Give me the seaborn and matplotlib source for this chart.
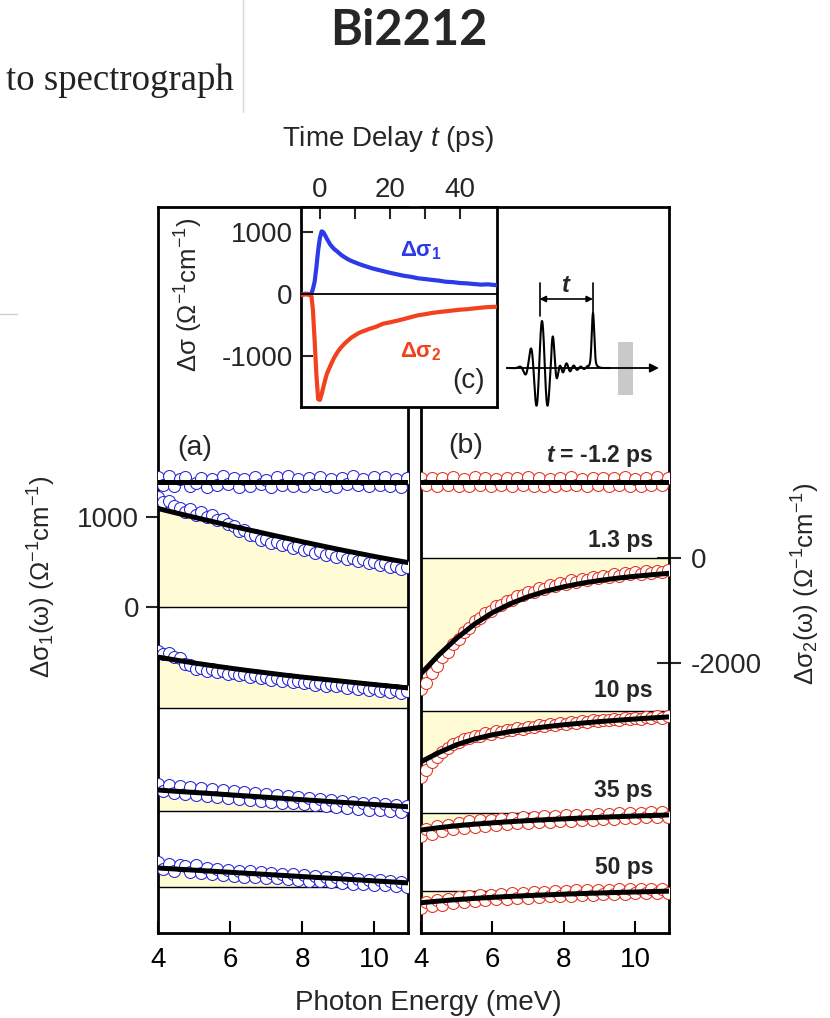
import numpy as np
import matplotlib
matplotlib.use("Agg")
import matplotlib.pyplot as plt
from matplotlib.lines import Line2D
from matplotlib.patches import Rectangle
import seaborn as sns

# ---------------------------------------------------------------- data
# photon energy (meV) of the measured spectra and of the model curves
energy = [4.0, 4.15, 4.3, 4.45, 4.6, 4.75, 4.9, 5.05, 5.2, 5.35, 5.5, 5.65,
          5.8, 5.95, 6.1, 6.25, 6.4, 6.55, 6.7, 6.85, 7.0, 7.15, 7.3, 7.45,
          7.6, 7.75, 7.9, 8.05, 8.2, 8.35, 8.5, 8.65, 8.8, 8.95, 9.1, 9.25,
          9.4, 9.55, 9.7, 9.85, 10.0, 10.15, 10.3, 10.45, 10.6, 10.75, 10.9]
energy_fit = [4.0, 4.5, 5.0, 5.5, 6.0, 6.5, 7.0, 7.5, 8.0, 8.5, 9.0, 9.5,
              10.0, 10.5, 11.0]

delay_labels = ["t = -1.2 ps", "1.3 ps", "10 ps", "35 ps", "50 ps"]

# (a) real part  Δσ1 (Ω^-1 cm^-1)
s1_m12 = [50, -35, 60, -45, 25, 55, -50, -15, 45, -60, 30, -40, 60, -25, 45,
          -55, 35, -50, 55, -30, 20, -55, 50, -35, 60, -45, 30, -50, 40, -25,
          55, -45, 35, -55, 45, -30, 60, -40, 25, -50, 50, -35, 55, -45, 30,
          -55, 45]
s1_1p3 = [1225, 1170, 1185, 1130, 1110, 1065, 1090, 1030, 1065, 1010, 1030,
          975, 985, 925, 905, 850, 860, 800, 805, 745, 760, 710, 725, 690,
          700, 660, 675, 630, 645, 605, 625, 580, 600, 555, 575, 530, 550,
          510, 530, 485, 505, 465, 485, 440, 460, 420, 440]
s1_10 = [640, 610, 625, 580, 560, 500, 480, 440, 455, 420, 440, 405, 420, 385,
         400, 370, 385, 350, 370, 335, 355, 320, 340, 305, 325, 295, 310, 280,
         300, 265, 285, 255, 275, 245, 265, 230, 255, 220, 240, 205, 230, 195,
         215, 185, 205, 170, 190]
s1_35 = [300, 220, 290, 200, 275, 195, 265, 180, 255, 170, 245, 160, 230, 150,
         220, 140, 210, 125, 200, 115, 190, 105, 180, 95, 170, 85, 160, 75,
         150, 65, 140, 55, 125, 45, 115, 35, 105, 25, 95, 15, 85, 10, 75, 0,
         65, -10, 55]
s1_50 = [280, 200, 265, 185, 255, 235, 170, 245, 160, 220, 150, 205, 140, 195,
         130, 185, 120, 180, 115, 170, 105, 160, 100, 150, 90, 145, 80, 135,
         75, 125, 65, 115, 55, 110, 50, 100, 40, 95, 35, 85, 25, 80, 20, 70,
         15, 60, 5]

fit1_m12 = [0, 0, 0, 0, 0, 0, 0, 0, 0, 0, 0, 0, 0, 0, 0]
fit1_1p3 = [1100, 1050, 1002, 955, 907, 862, 817, 773, 728, 685, 643, 603,
            563, 526, 490]
fit1_10 = [574, 540, 508, 478, 450, 423, 398, 373, 350, 329, 308, 287, 266,
           246, 226]
fit1_35 = [235, 221, 208, 195, 181, 168, 154, 141, 127, 114, 100, 87, 73, 60,
           46]
fit1_50 = [216, 204, 192, 180, 168, 156, 144, 132, 120, 108, 96, 84, 72, 60,
           48]

# (b) imaginary part  Δσ2 (Ω^-1 cm^-1)
s2_m12 = [80, -70, 65, -90, 75, -55, 85, -80, 55, -75, 90, -65, 70, -85, 60,
          -70, 80, -90, 65, -60, 85, -75, 70, -80, 60, -90, 75, -65, 85, -70,
          60, -80, 75, -60, 80, -85, 70, -65, 90, -75, 55, -80, 75, -70, 85,
          -60, 70]
s2_1p3 = [-2500, -2380, -2200, -2070, -1900, -1790, -1640, -1540, -1410, -1330,
          -1210, -1150, -1050, -1010, -920, -890, -810, -790, -720, -710, -640,
          -640, -575, -580, -520, -530, -470, -485, -425, -445, -390, -410,
          -360, -380, -330, -355, -305, -330, -285, -310, -265, -295, -250,
          -280, -235, -265, -220]
s2_10 = [-1260, -1130, -990, -880, -780, -710, -640, -600, -545, -530, -480,
         -480, -430, -440, -395, -405, -365, -375, -335, -345, -305, -320,
         -280, -295, -260, -275, -240, -255, -220, -235, -200, -220, -185,
         -200, -170, -185, -155, -175, -140, -160, -130, -150, -115, -135,
         -105, -130, -95]
s2_35 = [-430, -300, -390, -250, -340, -215, -300, -180, -275, -150, -260,
         -135, -240, -120, -225, -105, -210, -95, -195, -80, -185, -70, -170,
         -60, -160, -50, -150, -40, -140, -30, -130, -25, -120, -15, -110, -5,
         -100, 0, -95, 10, -85, 15, -80, 20, -70, 25, -65]
s2_50 = [-340, -215, -300, -180, -265, -150, -240, -125, -215, -105, -195, -90,
         -180, -75, -165, -60, -155, -50, -140, -40, -130, -30, -120, -20,
         -110, -10, -100, -5, -95, 5, -85, 10, -80, 15, -70, 20, -65, 25, -60,
         30, -50, 35, -45, 40, -40, 40, -35]

fit2_m12 = [0, 0, 0, 0, 0, 0, 0, 0, 0, 0, 0, 0, 0, 0, 0]
fit2_1p3 = [-2210, -1850, -1530, -1260, -1040, -870, -735, -628, -545, -478,
            -424, -380, -343, -312, -285]
fit2_10 = [-977, -800, -650, -540, -460, -398, -348, -305, -268, -236, -207,
           -181, -157, -135, -115]
fit2_35 = [-320, -275, -238, -208, -183, -160, -140, -122, -106, -91, -77,
           -64, -52, -41, -30]
fit2_50 = [-230, -198, -170, -147, -127, -109, -93, -79, -66, -54, -43, -33,
           -24, -15, -7]

# (c) spectrally integrated response versus pump-probe delay
t_delay = [-5.4, -4.0, -3.0, -2.4, -2.0, -1.5, -1.0, -0.5, 0.0, 0.5, 1.0, 1.5,
           2.0, 3.0, 4.0, 5.0, 6.0, 7.0, 8.0, 9.0, 10.0, 11.0, 12.0, 13.0,
           14.0, 15.0, 16.0, 18.0, 20.0, 22.0, 24.0, 26.0, 28.0, 30.0, 32.0,
           34.0, 36.0, 38.0, 40.0, 42.0, 44.0, 46.0, 48.0, 50.6]
dsig1_t = [-10, 5, -5, 10, 80, 200, 430, 700, 900, 1005, 990, 940, 885, 790,
           725, 680, 630, 592, 558, 530, 508, 485, 465, 446, 428, 410, 396,
           368, 340, 316, 292, 276, 252, 240, 226, 214, 196, 190, 176, 170,
           160, 150, 155, 140]
dsig2_t = [-20, -5, -15, -40, -250, -750, -1300, -1690, -1700, -1610, -1490,
           -1380, -1280, -1150, -1030, -935, -860, -800, -748, -700, -665,
           -630, -605, -585, -562, -545, -527, -478, -455, -430, -402, -372,
           -342, -325, -305, -290, -278, -265, -252, -245, -232, -220, -210,
           -205]

# vertical stacking of the spectra inside each panel
offsets_a = [1400, 0, -1138, -2288, -3142]
offsets_b = [1467, 0, -2921, -4885, -6368]

# ---------------------------------------------------------------- style
sns.set_theme(style="ticks")
plt.rcParams["font.family"] = ["Liberation Sans", "DejaVu Sans"]
plt.rcParams["mathtext.fontset"] = "custom"
plt.rcParams["mathtext.rm"] = "Liberation Sans"
plt.rcParams["mathtext.it"] = "Liberation Sans:italic"
plt.rcParams["mathtext.bf"] = "Liberation Sans:bold"
plt.rcParams["mathtext.bfit"] = "Liberation Sans:bold:italic"
plt.rcParams["axes.unicode_minus"] = False

W, H = 830, 1018
BLUE = "#2424d8"
RED = "#e3321f"
BLUE_LINE = "#2c3ae8"
RED_LINE = "#f2421d"
FILL = "#fffbd5"
TICK_FS = 20
LABEL_FS = 18.5
SPINE_W = 2.0


def box(x0, y0, x1, y1):
    """Axes rectangle from pixel edges (origin at top-left)."""
    return [x0 / W, 1 - y1 / H, (x1 - x0) / W, (y1 - y0) / H]


def fx(x):
    return x / W


def fy(y):
    return 1 - y / H


fig = plt.figure(figsize=(W / 100, H / 100), dpi=100)
fig.patch.set_facecolor("white")

# ---------------------------------------------------------------- panels
ax_a = fig.add_axes(box(158, 207, 408, 933), zorder=1)
ax_b = fig.add_axes(box(421, 207, 669, 933), zorder=1)


def draw_panel(ax, data_sets, fit_sets, offsets, color):
    for vals, fit, off in zip(data_sets, fit_sets, offsets):
        fit_y = np.asarray(fit, dtype=float) + off
        ax.fill_between(energy_fit, off, fit_y, color=FILL, lw=0, zorder=1)
        ax.axhline(off, color="black", lw=1.0, zorder=2)
        sns.scatterplot(x=energy, y=np.asarray(vals, dtype=float) + off, ax=ax,
                        marker="o", s=74, facecolor="white", edgecolor=color,
                        linewidth=0.75, zorder=3, legend=False)
        sns.lineplot(x=energy_fit, y=fit_y, ax=ax, color="black", lw=3.6,
                     sort=False, legend=False, zorder=4)


draw_panel(ax_a, [s1_m12, s1_1p3, s1_10, s1_35, s1_50],
           [fit1_m12, fit1_1p3, fit1_10, fit1_35, fit1_50], offsets_a, BLUE)
draw_panel(ax_b, [s2_m12, s2_1p3, s2_10, s2_35, s2_50],
           [fit2_m12, fit2_1p3, fit2_10, fit2_35, fit2_50], offsets_b, RED)

ax_a.set_ylim(-3654, 4476)
ax_b.set_ylim(-7178, 6730)
for ax in (ax_a, ax_b):
    ax.set_xlim(4.0, 10.94)
    ax.set_xticks([4, 6, 8, 10])
    ax.set_xticklabels(["4", "6", "8", "10"])
    ax.set_xlabel("")
    ax.set_ylabel("")
    ax.tick_params(axis="x", direction="in", length=8.6, width=1.5,
                   top=False, bottom=True, labelsize=TICK_FS, pad=10,
                   colors="black")
    for sp in ax.spines.values():
        sp.set_visible(True)
        sp.set_linewidth(SPINE_W)
        sp.set_color("black")
    ax.set_facecolor("white")

ax_a.set_yticks([0, 1000])
ax_a.set_yticklabels(["0", "1000"])
ax_a.tick_params(axis="y", direction="inout", length=17, width=1.5,
                 left=True, right=False, labelsize=TICK_FS, pad=5)
ax_b.yaxis.tick_right()
ax_b.set_yticks([0, -2000])
ax_b.set_yticklabels(["0", "-2000"])
ax_b.tick_params(axis="y", direction="inout", length=17, width=1.5,
                 left=False, right=True, labelleft=False, labelright=True,
                 labelsize=TICK_FS, pad=7)

# ---------------------------------------------------------------- inset (c)
ax_c = fig.add_axes(box(301, 207, 497, 407), zorder=5)
ax_c.set_facecolor("white")
sns.lineplot(x=t_delay, y=dsig1_t, ax=ax_c, color=BLUE_LINE, lw=3.0,
             sort=False, legend=False, zorder=3)
sns.lineplot(x=t_delay, y=dsig2_t, ax=ax_c, color=RED_LINE, lw=3.0,
             sort=False, legend=False, zorder=3)
ax_c.axhline(0, color="black", lw=1.3, zorder=4)
ax_c.set_xlim(-5.4, 50.6)
ax_c.set_ylim(-1814, 1396)
ax_c.set_xlabel("")
ax_c.set_ylabel("")
ax_c.xaxis.tick_top()
ax_c.set_xticks([0, 10, 20, 30, 40])
ax_c.set_xticklabels(["0", "", "20", "", "40"])
ax_c.set_yticks([-1000, 0, 1000])
ax_c.set_yticklabels(["-1000", "0", "1000"])
ax_c.tick_params(axis="x", direction="in", length=8.6, width=1.5, top=True,
                 bottom=False, labeltop=True, labelbottom=False,
                 labelsize=TICK_FS, pad=3)
ax_c.tick_params(axis="y", direction="in", length=8.6, width=1.5, left=True,
                 right=False, labelsize=TICK_FS, pad=6)
for sp in ax_c.spines.values():
    sp.set_linewidth(SPINE_W)
    sp.set_color("black")

ax_c.text(fx(400), fy(256.7), r"$\mathbf{\Delta\sigma_1}$", color=BLUE_LINE,
          fontsize=16, transform=fig.transFigure, ha="left", va="baseline",
          zorder=6)
ax_c.text(fx(400), fy(357.3), r"$\mathbf{\Delta\sigma_2}$", color=RED_LINE,
          fontsize=16, transform=fig.transFigure, ha="left", va="baseline",
          zorder=6)
ax_c.text(fx(452), fy(388), "(c)", fontsize=20, transform=fig.transFigure,
          ha="left", va="baseline", zorder=6)

# ---------------------------------------------------------------- pulse sketch
ax_s = fig.add_axes(box(500, 268, 665, 420), zorder=6)
ax_s.set_xlim(500, 665)
ax_s.set_ylim(420, 268)
ax_s.axis("off")
ax_s.patch.set_alpha(0)
ax_s.add_patch(Rectangle((618, 342), 15, 53, color="#c9c9c9", lw=0, zorder=1))
ax_s.annotate("", xy=(659, 368), xytext=(507, 368),
              arrowprops=dict(arrowstyle="-|>", color="black", lw=1.3,
                              mutation_scale=13, shrinkA=0, shrinkB=0),
              zorder=2)
xs = np.linspace(507, 610, 900)
thz = 47 * np.exp(-((xs - 542) / 12) ** 2) * np.cos(2 * np.pi * (xs - 542) / 11.5)
tail = np.where(xs > 551, 14 * np.exp(-(xs - 551) / 13) *
                np.sin(2 * np.pi * (xs - 551) / 7.0), 0.0)
tail = np.where(xs < 588, tail, 0.0)
probe = 50 * np.exp(-((xs - 593) / 1.7) ** 2) + 5 * np.exp(-((xs - 593) / 4.5) ** 2)
sns.lineplot(x=xs, y=368 - (thz + tail + probe), ax=ax_s, color="black",
             lw=1.5, sort=False, legend=False, zorder=3)
ax_s.plot([539.5, 539.5], [283, 316], color="black", lw=1.2, zorder=3)
ax_s.plot([593, 593], [283, 316], color="black", lw=1.2, zorder=3)
ax_s.annotate("", xy=(593, 299), xytext=(539.5, 299),
              arrowprops=dict(arrowstyle="<|-|>", color="black", lw=1.2,
                              mutation_scale=9, shrinkA=0, shrinkB=0),
              zorder=3)
ax_s.text(566, 286, r"$\mathbfit{t}$", fontsize=17, ha="center", va="center",
          zorder=4)

# ---------------------------------------------------------------- text
fig.text(fx(408.5), fy(45), "Bi2212", family=["Lato", "DejaVu Sans"],
         fontweight="bold", fontsize=35, ha="center", va="baseline")
fig.text(fx(234), fy(90), "to spectrograph",
         family=["Liberation Serif", "DejaVu Serif"], fontsize=26.5,
         color="#222222", ha="right", va="baseline")
fig.add_artist(Line2D([fx(243), fx(243)], [fy(0), fy(112)], color="#d6d6d6",
                      lw=1.0))
fig.add_artist(Line2D([fx(0), fx(17)], [fy(314), fy(314)], color="#d0d0d0",
                      lw=1.0))

fig.text(fx(388), fy(146.5), r"Time Delay $\mathit{t}$ (ps)", fontsize=TICK_FS,
         ha="center", va="baseline")
fig.text(fx(189), fy(295), r"$\mathrm{\Delta\sigma\ (\Omega^{-1}cm^{-1})}$",
         fontsize=LABEL_FS, rotation=90, ha="center", va="center")
fig.text(fx(42), fy(577),
         r"$\mathrm{\Delta\sigma_1(\omega)\ (\Omega^{-1}cm^{-1})}$",
         fontsize=LABEL_FS, rotation=90, ha="center", va="center")
fig.text(fx(806), fy(584),
         r"$\mathrm{\Delta\sigma_2(\omega)\ (\Omega^{-1}cm^{-1})}$",
         fontsize=LABEL_FS, rotation=90, ha="center", va="center")
fig.text(fx(428), fy(1010), "Photon Energy (meV)", fontsize=TICK_FS,
         ha="center", va="baseline")

fig.text(fx(177), fy(455), "(a)", fontsize=20.5, ha="left", va="baseline",
         zorder=7)
fig.text(fx(448), fy(453), "(b)", fontsize=20.5, ha="left", va="baseline",
         zorder=7)

label_baselines = [461.7, 546.7, 696.7, 796.7, 874]
for lab, yb in zip(delay_labels, label_baselines):
    txt = lab.replace("t =", r"$\mathbfit{t}$ =")
    fig.text(fx(653), fy(yb), txt, fontsize=16.5, fontweight="bold",
             ha="right", va="baseline", zorder=7)

fig.savefig("out.png", dpi=100)
